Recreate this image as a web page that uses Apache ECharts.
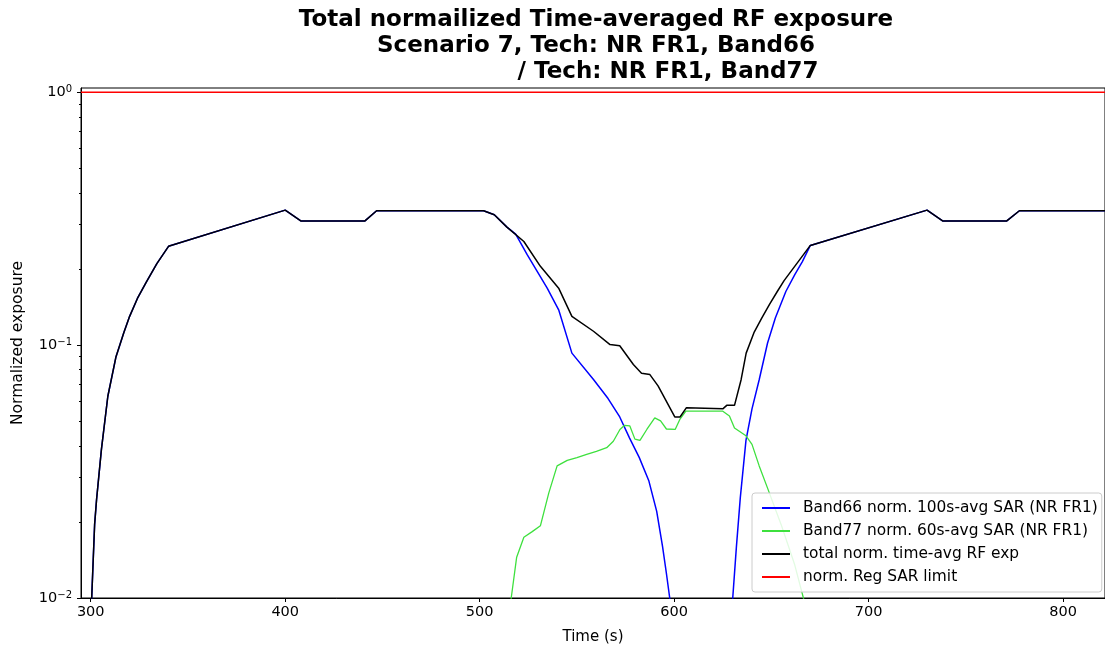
<!DOCTYPE html>
<html>
<head>
<meta charset="utf-8">
<script src="https://cdn.jsdelivr.net/npm/echarts@6/dist/echarts.min.js"></script>
<style>
  html, body { margin: 0; padding: 0; background: #fff; }
  #main { width: 1105px; height: 650px; }
</style>
</head>
<body>
<div id="main"></div>
<script>
// time axis (s)
var xTicks = [300, 400, 500, 600, 700, 800]
var yTicks = [0.01, 0.1, 1]
var yMinorTicks = [0.02, 0.03, 0.04, 0.05, 0.06, 0.07, 0.08, 0.09, 0.2, 0.3, 0.4, 0.5, 0.6, 0.7, 0.8, 0.9]

// Band66 norm. 100s-avg SAR
var band66T = [300, 301, 302, 303, 305.5, 308.8, 313, 317, 320, 324, 328.5, 334, 340, 400, 408, 441, 447, 502, 507.5, 514,
  518.5, 524.4, 534.7, 540.6, 547.4, 558.5, 566, 572, 577, 582, 587, 591, 594, 596, 597.7, 599, 601,
  627, 629, 630.1, 632, 634, 636.9, 640, 643.7, 648, 652, 657.4, 662, 665.9, 670, 730, 738, 771, 777.5, 821.5]
var band66V = [0.008, 0.0125, 0.0195, 0.0245, 0.0387, 0.0628, 0.09, 0.112, 0.13, 0.153, 0.177, 0.21, 0.246, 0.342, 0.31, 0.31, 0.34, 0.34, 0.328, 0.293,
  0.275, 0.228, 0.168, 0.138, 0.093, 0.0731, 0.0615, 0.052, 0.043, 0.036, 0.029, 0.022, 0.016, 0.0125, 0.01, 0.006, 0.0001,
  0.0001, 0.004, 0.01, 0.016, 0.025, 0.042, 0.056, 0.073, 0.102, 0.128, 0.163, 0.19, 0.214, 0.248, 0.342, 0.31, 0.31, 0.34, 0.34]

// Band77 norm. 60s-avg SAR
var band77T = [514, 516.2, 519, 522.7, 527, 531.2, 535.5, 539.8, 545, 550, 555, 560, 565.3, 568.7, 572.1, 574.5, 577.2, 579.8, 582.4,
  586, 590, 593, 596, 600.5, 603, 606, 625, 628.4, 631, 636.9, 640, 643.7, 648, 655, 662, 668, 675]
var band77V = [0.004, 0.01, 0.0145, 0.0174, 0.0183, 0.0193, 0.026, 0.0333, 0.035, 0.0359, 0.037, 0.038, 0.0393, 0.0417, 0.0464, 0.0482, 0.0479, 0.0425, 0.042,
  0.0465, 0.0516, 0.0502, 0.0466, 0.0464, 0.051, 0.0548, 0.0548, 0.0525, 0.047, 0.0438, 0.0405, 0.0333, 0.0272, 0.0195, 0.0135, 0.009, 0.005]

// total norm. time-avg RF exposure
var totalT = [300, 301, 302, 303, 305.5, 308.8, 313, 317, 320, 324, 328.5, 334, 340, 400, 408, 441, 447, 502, 507.5, 514,
  522.7, 531.2, 540.6, 547.4, 558.5, 567, 572, 579, 583.2, 587.5, 591.7, 600.3, 603, 606.3, 625, 627, 631,
  634.4, 637, 641, 645, 649, 653, 656.5, 670, 730, 738, 771, 777.5, 821.5]
var totalV = [0.008, 0.0125, 0.0195, 0.0245, 0.0387, 0.0628, 0.09, 0.112, 0.13, 0.153, 0.177, 0.21, 0.246, 0.342, 0.31, 0.31, 0.34, 0.34, 0.328, 0.293,
  0.257, 0.205, 0.168, 0.13, 0.1135, 0.1005, 0.0995, 0.0838, 0.0775, 0.0765, 0.069, 0.052, 0.052, 0.0566, 0.056, 0.0578, 0.0578,
  0.073, 0.093, 0.112, 0.128, 0.145, 0.163, 0.18, 0.248, 0.342, 0.31, 0.31, 0.34, 0.34]

// norm. Reg SAR limit
var limitT = [295, 821.5]
var limitV = [1, 1]

function pairs (ts, vs) {
  var out = []
  for (var i = 0; i < ts.length; i++) {
    out.push([ts[i], vs[i]])
  }
  return out
}

var font = 'DejaVu Sans'
var myChart = echarts.init(document.getElementById('main'))

var option = {
  animation: false,
  backgroundColor: '#fff',
  textStyle: { fontFamily: font, color: '#000' },
  title: {
    text: 'Total normailized Time-averaged RF exposure\nScenario 7, Tech: NR FR1, Band66\n                  / Tech: NR FR1, Band77',
    left: 596,
    top: 7,
    textAlign: 'center',
    padding: 0,
    textStyle: { fontFamily: font, fontSize: 23, fontWeight: 'bold', color: '#000', lineHeight: 26 }
  },
  grid: {
    left: 81, right: -6, top: 88, bottom: 50,
    show: true, borderColor: '#000', borderWidth: 1
  },
  legend: {
    orient: 'vertical',
    left: 752,
    top: 493,
    padding: [7, 4, 7, 10],
    itemGap: 7,
    itemWidth: 28,
    itemHeight: 2,
    icon: 'rect',
    backgroundColor: 'rgba(255,255,255,0.85)',
    borderColor: '#ccc',
    borderWidth: 1,
    borderRadius: 3,
    textStyle: { fontFamily: font, fontSize: 15.4, color: '#000', lineHeight: 16, padding: [0, 0, 0, 8] },
    data: ['Band66 norm. 100s-avg SAR (NR FR1)', 'Band77 norm. 60s-avg SAR (NR FR1)', 'total norm. time-avg RF exp', 'norm. Reg SAR limit']
  },
  xAxis: {
    type: 'value',
    min: 295,
    max: 821.5,
    name: 'Time (s)',
    nameLocation: 'middle',
    nameGap: 32,
    nameTextStyle: { fontFamily: font, fontSize: 15, color: '#000' },
    axisLine: { lineStyle: { color: '#000', width: 1 } },
    axisTick: { customValues: xTicks, length: 4, lineStyle: { color: '#000' } },
    axisLabel: { customValues: xTicks, fontFamily: font, fontSize: 14.5, color: '#000', margin: 7 },
    splitLine: { show: false }
  },
  yAxis: [{
    type: 'log',
    min: 0.01,
    max: 1.04,
    name: 'Normalized exposure',
    nameLocation: 'middle',
    nameGap: 55,
    nameTextStyle: { fontFamily: font, fontSize: 15.5, color: '#000' },
    axisLine: { show: true, lineStyle: { color: '#000', width: 1 } },
    axisTick: { show: true, customValues: yTicks, length: 4, lineStyle: { color: '#000' } },
    axisLabel: {
      customValues: yTicks,
      margin: 9,
      formatter: function (v) {
        var e = Math.round(Math.log10(v))
        return '{b|10}{s|' + (e === 0 ? '0' : '\u2212' + (-e)) + '}'
      },
      rich: {
        b: { fontFamily: font, fontSize: 14.5, color: '#000', verticalAlign: 'bottom', lineHeight: 15 },
        s: { fontFamily: font, fontSize: 10, color: '#000', verticalAlign: 'top', lineHeight: 15 }
      }
    },
    splitLine: { show: false }
  }, {
    type: 'log',
    min: 0.01,
    max: 1.04,
    position: 'left',
    offset: 0,
    axisLine: { show: false },
    axisTick: { show: true, customValues: yMinorTicks, length: 2, lineStyle: { color: '#000' } },
    axisLabel: { show: false },
    splitLine: { show: false }
  }],
  series: [{
    name: 'Band66 norm. 100s-avg SAR (NR FR1)',
    type: 'line',
    symbol: 'none',
    lineStyle: { color: '#0000ff', width: 1.5 },
    itemStyle: { color: '#0000ff' },
    data: pairs(band66T, band66V)
  }, {
    name: 'Band77 norm. 60s-avg SAR (NR FR1)',
    type: 'line',
    symbol: 'none',
    lineStyle: { color: '#3ee03e', width: 1.3 },
    itemStyle: { color: '#3ee03e' },
    data: pairs(band77T, band77V)
  }, {
    name: 'total norm. time-avg RF exp',
    type: 'line',
    symbol: 'none',
    lineStyle: { color: '#000', width: 1.5 },
    itemStyle: { color: '#000' },
    data: pairs(totalT, totalV)
  }, {
    name: 'norm. Reg SAR limit',
    type: 'line',
    symbol: 'none',
    lineStyle: { color: '#ff0000', width: 1.5 },
    itemStyle: { color: '#ff0000' },
    data: pairs(limitT, limitV)
  }]
}

myChart.setOption(option)
</script>
</body>
</html>
